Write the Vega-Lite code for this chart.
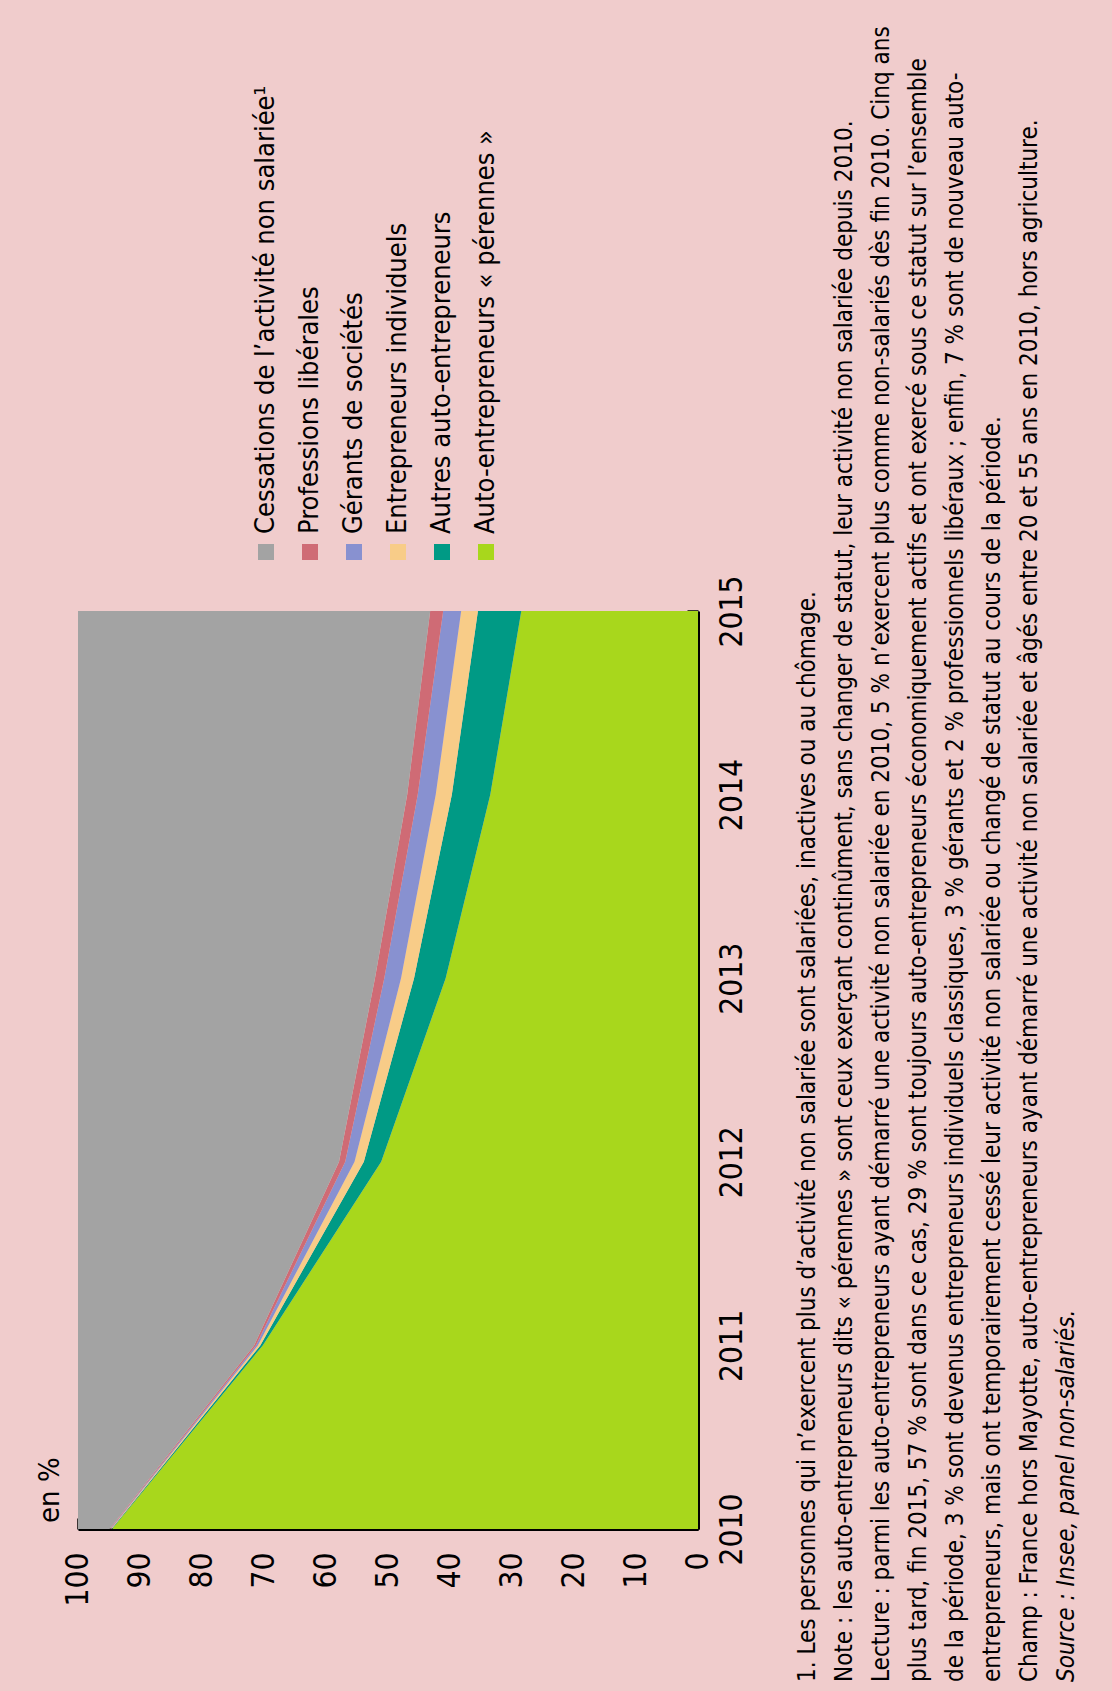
{
  "$schema": "https://vega.github.io/schema/vega-lite/v6.json",
  "background": "#F0CCCC",
  "padding": {"left": 35, "top": 0, "right": 2, "bottom": 9},
  "columns": 2,
  "bounds": "flush",
  "spacing": {"row": 59, "column": 80},
  "config": {
    "view": {"stroke": null},
    "font": "DejaVu Sans Condensed, Liberation Sans, sans-serif",
    "axis": {"labelColor": "#000000", "domainColor": "#000000", "tickColor": "#000000", "grid": false, "labelFlush": false, "labelOverlap": false, "labelBound": false}
  },
  "datasets": {
    "donnees": [
      {"annee": 2010, "serie": "Auto-entrepreneurs « pérennes »", "rang": 1, "valeur": 94.5},
      {"annee": 2010, "serie": "Autres auto-entrepreneurs", "rang": 2, "valeur": 0.1},
      {"annee": 2010, "serie": "Entrepreneurs individuels", "rang": 3, "valeur": 0.1},
      {"annee": 2010, "serie": "Gérants de sociétés", "rang": 4, "valeur": 0.1},
      {"annee": 2010, "serie": "Professions libérales", "rang": 5, "valeur": 0.1},
      {"annee": 2010, "serie": "Cessations de l’activité non salariée¹", "rang": 6, "valeur": 5.1},
      {"annee": 2011, "serie": "Auto-entrepreneurs « pérennes »", "rang": 1, "valeur": 70.2},
      {"annee": 2011, "serie": "Autres auto-entrepreneurs", "rang": 2, "valeur": 0.4},
      {"annee": 2011, "serie": "Entrepreneurs individuels", "rang": 3, "valeur": 0.4},
      {"annee": 2011, "serie": "Gérants de sociétés", "rang": 4, "valeur": 0.3},
      {"annee": 2011, "serie": "Professions libérales", "rang": 5, "valeur": 0.3},
      {"annee": 2011, "serie": "Cessations de l’activité non salariée¹", "rang": 6, "valeur": 28.4},
      {"annee": 2012, "serie": "Auto-entrepreneurs « pérennes »", "rang": 1, "valeur": 51.1},
      {"annee": 2012, "serie": "Autres auto-entrepreneurs", "rang": 2, "valeur": 2.8},
      {"annee": 2012, "serie": "Entrepreneurs individuels", "rang": 3, "valeur": 1.5},
      {"annee": 2012, "serie": "Gérants de sociétés", "rang": 4, "valeur": 1.5},
      {"annee": 2012, "serie": "Professions libérales", "rang": 5, "valeur": 1.0},
      {"annee": 2012, "serie": "Cessations de l’activité non salariée¹", "rang": 6, "valeur": 42.1},
      {"annee": 2013, "serie": "Auto-entrepreneurs « pérennes »", "rang": 1, "valeur": 40.7},
      {"annee": 2013, "serie": "Autres auto-entrepreneurs", "rang": 2, "valeur": 5.1},
      {"annee": 2013, "serie": "Entrepreneurs individuels", "rang": 3, "valeur": 2.1},
      {"annee": 2013, "serie": "Gérants de sociétés", "rang": 4, "valeur": 2.7},
      {"annee": 2013, "serie": "Professions libérales", "rang": 5, "valeur": 1.5},
      {"annee": 2013, "serie": "Cessations de l’activité non salariée¹", "rang": 6, "valeur": 47.9},
      {"annee": 2014, "serie": "Auto-entrepreneurs « pérennes »", "rang": 1, "valeur": 33.5},
      {"annee": 2014, "serie": "Autres auto-entrepreneurs", "rang": 2, "valeur": 6.2},
      {"annee": 2014, "serie": "Entrepreneurs individuels", "rang": 3, "valeur": 2.6},
      {"annee": 2014, "serie": "Gérants de sociétés", "rang": 4, "valeur": 2.9},
      {"annee": 2014, "serie": "Professions libérales", "rang": 5, "valeur": 1.7},
      {"annee": 2014, "serie": "Cessations de l’activité non salariée¹", "rang": 6, "valeur": 53.1},
      {"annee": 2015, "serie": "Auto-entrepreneurs « pérennes »", "rang": 1, "valeur": 28.5},
      {"annee": 2015, "serie": "Autres auto-entrepreneurs", "rang": 2, "valeur": 7.0},
      {"annee": 2015, "serie": "Entrepreneurs individuels", "rang": 3, "valeur": 2.7},
      {"annee": 2015, "serie": "Gérants de sociétés", "rang": 4, "valeur": 2.9},
      {"annee": 2015, "serie": "Professions libérales", "rang": 5, "valeur": 2.1},
      {"annee": 2015, "serie": "Cessations de l’activité non salariée¹", "rang": 6, "valeur": 56.8}
    ],
    "series": [
      {"serie": "Cessations de l’activité non salariée¹"},
      {"serie": "Professions libérales"},
      {"serie": "Gérants de sociétés"},
      {"serie": "Entrepreneurs individuels"},
      {"serie": "Autres auto-entrepreneurs"},
      {"serie": "Auto-entrepreneurs « pérennes »"}
    ],
    "notes": [
      {"ligne": 1, "texte": "1. Les personnes qui n’exercent plus d’activité non salariée sont salariées, inactives ou au chômage."},
      {"ligne": 2, "texte": "Note : les auto-entrepreneurs dits « pérennes » sont ceux exerçant continûment, sans changer de statut, leur activité non salariée depuis 2010."},
      {"ligne": 3, "texte": "Lecture : parmi les auto-entrepreneurs ayant démarré une activité non salariée en 2010, 5 % n’exercent plus comme non-salariés dès fin 2010. Cinq ans"},
      {"ligne": 4, "texte": "plus tard, fin 2015, 57 % sont dans ce cas, 29 % sont toujours auto-entrepreneurs économiquement actifs et ont exercé sous ce statut sur l’ensemble"},
      {"ligne": 5, "texte": "de la période, 3 % sont devenus entrepreneurs individuels classiques, 3 % gérants et 2 % professionnels libéraux ; enfin, 7 % sont de nouveau auto-"},
      {"ligne": 6, "texte": "entrepreneurs, mais ont temporairement cessé leur activité non salariée ou changé de statut au cours de la période."},
      {"ligne": 7, "texte": "Champ : France hors Mayotte, auto-entrepreneurs ayant démarré une activité non salariée et âgés entre 20 et 55 ans en 2010, hors agriculture."},
      {"ligne": 8, "texte": "Source : Insee, panel non-salariés."}
    ]
  },
  "concat": [
    {
      "width": 596,
      "height": 552,
      "data": {"name": "series"},
      "layer": [
        {
          "mark": {"type": "square", "size": 256, "filled": true, "opacity": 1},
          "encoding": {
            "x": {"field": "serie", "type": "nominal", "axis": null, "scale": {"type": "point", "padding": 0, "range": [188, 408], "domain": ["Cessations de l’activité non salariée¹", "Professions libérales", "Gérants de sociétés", "Entrepreneurs individuels", "Autres auto-entrepreneurs", "Auto-entrepreneurs « pérennes »"]}},
            "y": {"value": "height"},
            "color": {"field": "serie", "type": "nominal", "legend": null, "scale": {"domain": ["Cessations de l’activité non salariée¹", "Professions libérales", "Gérants de sociétés", "Entrepreneurs individuels", "Autres auto-entrepreneurs", "Auto-entrepreneurs « pérennes »"], "range": ["#A3A3A3", "#CF6B75", "#8891D0", "#F8CC88", "#009A85", "#A8D71C"]}}
          }
        },
        {
          "mark": {"type": "text", "angle": -90, "align": "left", "baseline": "middle", "dx": 18, "fontSize": 27, "color": "#000000"},
          "encoding": {
            "x": {"field": "serie", "type": "nominal", "axis": null, "scale": {"type": "point", "padding": 0, "range": [188, 408], "domain": ["Cessations de l’activité non salariée¹", "Professions libérales", "Gérants de sociétés", "Entrepreneurs individuels", "Autres auto-entrepreneurs", "Auto-entrepreneurs « pérennes »"]}},
            "y": {"value": "height"},
            "text": {"field": "serie"}
          }
        }
      ]
    },
    {
      "width": 333,
      "height": 552,
      "data": {"values": [{"t": ""}]},
      "mark": {"type": "text"},
      "encoding": {"text": {"field": "t"}}
    },
    {
      "width": 620,
      "height": 918,
      "view": {"stroke": "#A9CDE8", "strokeWidth": 1},
      "layer": [
        {
          "data": {"name": "donnees"},
          "mark": {"type": "area", "interpolate": "linear", "orient": "horizontal"},
          "encoding": {
            "x": {
              "field": "valeur", "type": "quantitative", "stack": "zero",
              "scale": {"domain": [0, 100], "reverse": true, "nice": false},
              "axis": {"orient": "bottom", "title": null, "values": [0, 10, 20, 30, 40, 50, 60, 70, 80, 90, 100], "format": "d", "labelAngle": -90, "labelAlign": "right", "labelBaseline": "middle", "labelPadding": 34, "labelFontSize": 31.5, "tickSize": -11, "tickWidth": 2.5, "domainWidth": 3}
            },
            "y": {
              "field": "annee", "type": "quantitative",
              "scale": {"domain": [2010, 2015], "nice": false, "zero": false},
              "axis": {"orient": "right", "title": null, "values": [2010, 2011, 2012, 2013, 2014, 2015], "format": "d", "labelAngle": -90, "labelAlign": "center", "labelBaseline": "top", "labelPadding": 29, "labelFontSize": 31.5, "tickSize": -11, "tickWidth": 2.5, "domainWidth": 3}
            },
            "color": {"field": "serie", "type": "nominal", "legend": null, "scale": {"domain": ["Cessations de l’activité non salariée¹", "Professions libérales", "Gérants de sociétés", "Entrepreneurs individuels", "Autres auto-entrepreneurs", "Auto-entrepreneurs « pérennes »"], "range": ["#A3A3A3", "#CF6B75", "#8891D0", "#F8CC88", "#009A85", "#A8D71C"]}},
            "order": {"field": "rang", "type": "quantitative"}
          }
        },
        {
          "data": {"values": [{"label": "en %"}]},
          "mark": {"type": "text", "angle": -90, "align": "left", "baseline": "alphabetic", "dx": 6, "dy": -19, "fontSize": 29, "color": "#000000"},
          "encoding": {
            "x": {"datum": 100},
            "y": {"datum": 2010},
            "text": {"field": "label"}
          }
        }
      ]
    },
    {
      "width": 333,
      "height": 1071,
      "data": {"name": "notes"},
      "layer": [
        {
          "transform": [{"filter": "datum.ligne < 8"}],
          "mark": {"type": "text", "angle": -90, "align": "left", "baseline": "alphabetic", "fontSize": 24, "color": "#000000"},
          "encoding": {
            "x": {"field": "ligne", "type": "ordinal", "axis": null, "scale": {"type": "point", "padding": 1}},
            "y": {"value": "height"},
            "text": {"field": "texte"}
          }
        },
        {
          "transform": [{"filter": "datum.ligne == 8"}],
          "mark": {"type": "text", "angle": -90, "align": "left", "baseline": "alphabetic", "fontSize": 24, "fontStyle": "italic", "color": "#000000"},
          "encoding": {
            "x": {"field": "ligne", "type": "ordinal", "axis": null, "scale": {"type": "point", "padding": 1}},
            "y": {"value": "height"},
            "text": {"field": "texte"}
          }
        }
      ]
    }
  ]
}
